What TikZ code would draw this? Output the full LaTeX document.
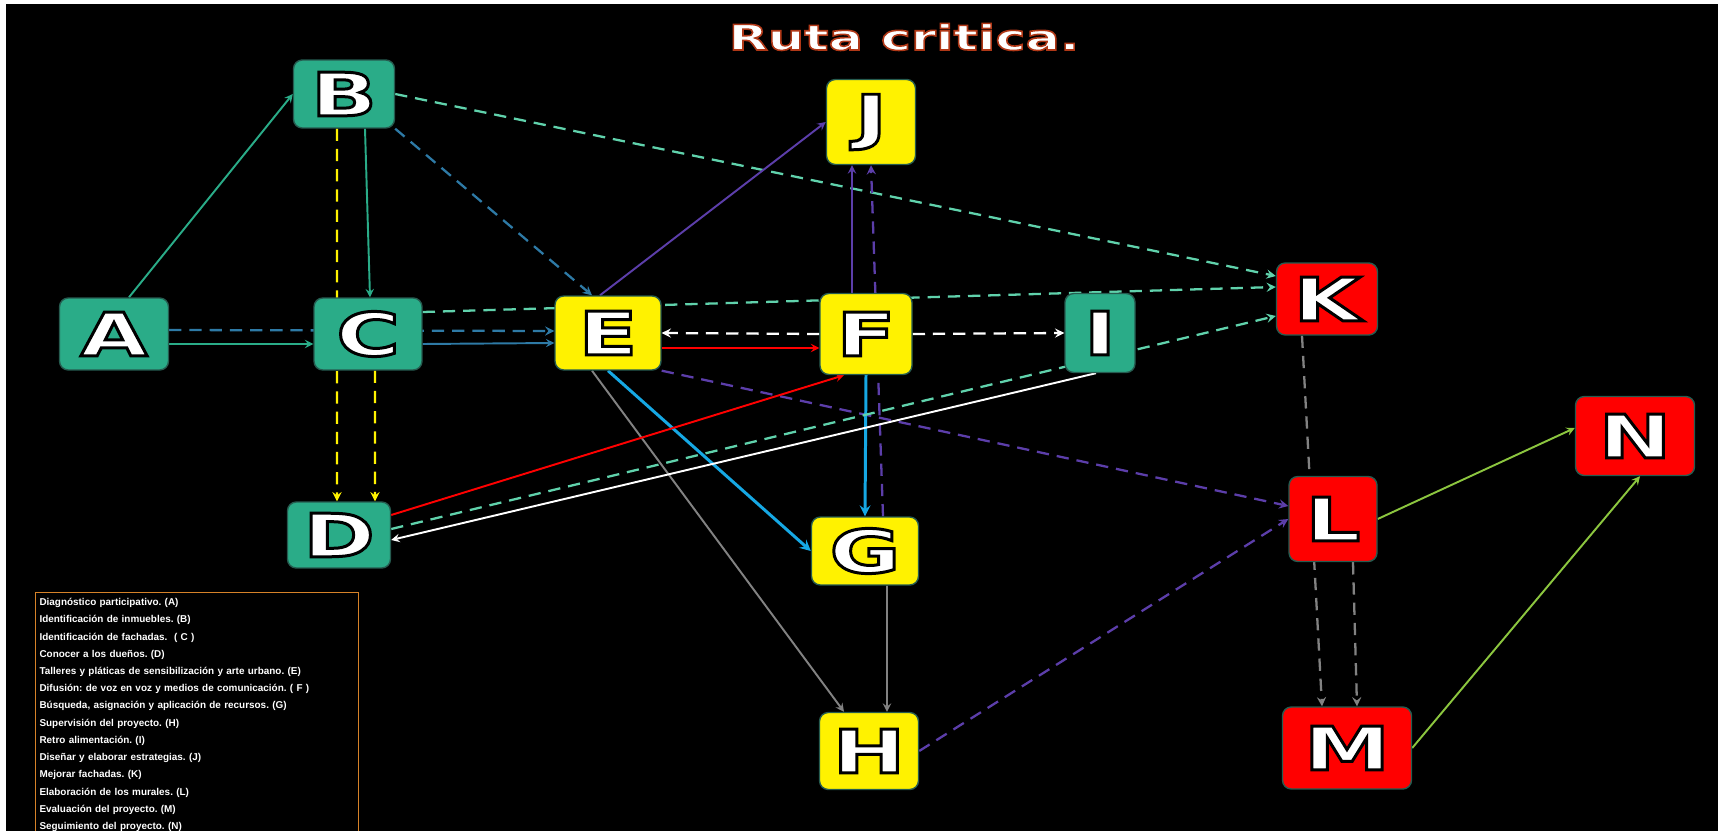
\documentclass[tikz,border=0pt]{standalone}
\usepackage{fontspec}
\setmainfont{DejaVu Sans}
\newfontfamily\wideface[FakeStretch=1.45]{DejaVu Sans}
\newfontfamily\legendface{Liberation Sans}
\usetikzlibrary{shapes.geometric, arrows}

\definecolor{tealnode}{RGB}{42,172,136}
\definecolor{rimcol}{RGB}{38,92,80}
\definecolor{aqua}{RGB}{96,210,172}
\definecolor{steel}{RGB}{46,122,166}
\definecolor{violet}{RGB}{92,62,170}
\definecolor{sky}{RGB}{22,168,228}
\definecolor{leaf}{RGB}{140,198,63}
\definecolor{greyline}{RGB}{130,130,130}
\definecolor{amber}{RGB}{214,130,40}

% white letter with a black rim (fill and stroke in one go)
\newcommand{\boxletter}[1]{{\color{white}\special{pdf:literal direct 2 Tr 1.7 w 0 0 0 RG}#1\special{pdf:literal direct 0 Tr}}}
\newcommand{\titlemark}[1]{{\color{white}\special{pdf:literal direct 2 Tr 0.9 w 0.69 0.22 0.09 RG}#1\special{pdf:literal direct 0 Tr}}}

\pgfdeclarelayer{back}
\pgfdeclarelayer{edges}
\pgfsetlayers{back,edges,main}

\tikzstyle{tealbox} = [rectangle, rounded corners=5pt, draw=rimcol, line width=0.8pt, fill=tealnode, inner sep=0pt, font=\wideface\bfseries\fontsize{34}{34}\selectfont]
\tikzstyle{yellowbox} = [tealbox, fill=yellow]
\tikzstyle{redbox} = [tealbox, fill=red]
\tikzstyle{legendbox} = [rectangle, draw=amber, line width=0.6pt, anchor=north west, minimum width=6.46cm, minimum height=4.74cm, text width=6.3cm, align=left, inner xsep=2pt, text=white, font=\legendface\bfseries\fontsize{5.65}{9.8}\selectfont\frenchspacing]
\tikzstyle{arrow} = [line width=1.1pt, ->, >=stealth]
\tikzstyle{dasharrow} = [arrow, line width=1.3pt, dash pattern=on 7pt off 4.5pt]
\tikzstyle{fatarrow} = [arrow, line width=1.7pt]

\begin{document}
\begin{tikzpicture}[x=0.02cm, y=-0.02cm]
\useasboundingbox (0,0) rectangle (1718,831);
\begin{pgfonlayer}{back}
\fill [white] (0,0) rectangle (1718,831);
\fill [black] (6,4) rectangle (1718,831);
\end{pgfonlayer}

\node (title) [anchor=base, font=\wideface\bfseries\fontsize{20}{20}\selectfont] at (904,50) {\titlemark{Ruta critica.}};

\node (a) [tealbox, minimum width=2.18cm, minimum height=1.44cm] at (114,334) {\boxletter{A}};
\node (b) [tealbox, minimum width=2.02cm, minimum height=1.36cm] at (344,94) {\boxletter{B}};
\node (c) [tealbox, minimum width=2.16cm, minimum height=1.44cm] at (368,334) {\boxletter{C}};
\node (d) [tealbox, minimum width=2.06cm, minimum height=1.32cm] at (339,535) {\boxletter{D}};
\node (e) [yellowbox, minimum width=2.12cm, minimum height=1.48cm] at (608,333) {\boxletter{E}};
\node (f) [yellowbox, minimum width=1.84cm, minimum height=1.62cm] at (866,334) {\boxletter{F}};
\node (i) [tealbox, minimum width=1.40cm, minimum height=1.58cm] at (1100,333) {\boxletter{I}};
\node (j) [yellowbox, minimum width=1.78cm, minimum height=1.70cm] at (871,122) {\boxletter{J}};
\node (g) [yellowbox, minimum width=2.14cm, minimum height=1.36cm] at (865,551) {\boxletter{G}};
\node (h) [yellowbox, minimum width=1.98cm, minimum height=1.54cm] at (869,751) {\boxletter{H}};
\node (k) [redbox, minimum width=2.02cm, minimum height=1.44cm] at (1327,299) {\boxletter{K}};
\node (l) [redbox, minimum width=1.76cm, minimum height=1.70cm] at (1333,519) {\boxletter{L}};
\node (m) [redbox, minimum width=2.58cm, minimum height=1.64cm] at (1347,748) {\boxletter{M}};
\node (n) [redbox, minimum width=2.38cm, minimum height=1.58cm] at (1635,436) {\boxletter{N}};

\node (legend) [legendbox] at (35,592) {Diagnóstico participativo. (A)\\
Identificación de inmuebles. (B)\\
Identificación de fachadas.~~( C )\\
Conocer a los dueños. (D)\\
Talleres y pláticas de sensibilización y arte urbano. (E)\\
Difusión: de voz en voz y medios de comunicación. ( F )\\
Búsqueda, asignación y aplicación de recursos. (G)\\
Supervisión del proyecto. (H)\\
Retro alimentación. (I)\\
Diseñar y elaborar estrategias. (J)\\
Mejorar fachadas. (K)\\
Elaboración de los murales. (L)\\
Evaluación del proyecto. (M)\\
Seguimiento del proyecto. (N)\\[3pt]};

\begin{pgfonlayer}{edges}
\draw [arrow, tealnode] ([xshift=0.3cm]a.north) -- (b.west);
\draw [arrow, tealnode] ([yshift=-0.2cm]a.east) -- ([yshift=-0.2cm]c.west);
\draw [dasharrow, steel] ([yshift=0.08cm]a.east) -- ([yshift=0.04cm]e.west);
\draw [arrow, steel] ([yshift=-0.2cm]c.east) -- ([yshift=-0.2cm]e.west);
\draw [arrow, tealnode] ([xshift=0.42cm]b.south) -- ([xshift=0.04cm]c.north);
\draw [dasharrow, yellow] ([xshift=-0.14cm]b.south) -- ([xshift=-0.04cm]d.north);
\draw [dasharrow, yellow] ([xshift=0.14cm]c.south) -- ([xshift=0.72cm]d.north);
\draw [dasharrow, steel] (b.south east) -- ([xshift=-0.32cm]e.north);
\draw [dasharrow, aqua] (b.east) -- ([yshift=0.46cm]k.west);
\draw [dasharrow, aqua] ([yshift=0.44cm]c.east) -- ([yshift=0.24cm]k.west);
\draw [arrow, red] ([yshift=-0.3cm]e.east) -- ([yshift=-0.28cm]f.west);
\draw [dasharrow, white] (f.west) -- (e.east);
\draw [dasharrow, white] (f.east) -- (i.west);
\draw [arrow, violet] ([xshift=-0.16cm]e.north) -- (j.west);
\draw [arrow, violet] ([xshift=-0.28cm]f.north) -- ([xshift=-0.38cm]j.south);
\draw [dasharrow, violet] ([xshift=0.36cm]g.north) -- (j.south);
\draw [dasharrow, violet] (e.south east) -- ([yshift=0.26cm]l.west);
\draw [dasharrow, violet] (h.east) -- (l.west);
\draw [fatarrow, sky] (e.south) -- (g.west);
\draw [fatarrow, sky] (f.south) -- (g.north);
\draw [arrow, greyline] ([xshift=-0.32cm]e.south) -- ([xshift=-0.5cm]h.north);
\draw [arrow, greyline] ([xshift=0.44cm]g.south) -- ([xshift=0.36cm]h.north);
\draw [arrow, red] ([yshift=0.4cm]d.east) -- ([xshift=-0.44cm]f.south);
\draw [dasharrow, aqua] ([yshift=0.12cm]d.east) -- ([yshift=-0.34cm]k.west);
\draw [arrow, white] ([xshift=-0.08cm]i.south) -- ([yshift=-0.1cm]d.east);
\draw [dasharrow, greyline] ([xshift=-0.5cm]k.south) -- ([xshift=-0.5cm]m.north);
\draw [dasharrow, greyline] ([xshift=0.4cm]l.south) -- ([xshift=0.2cm]m.north);
\draw [arrow, leaf] (l.east) -- ([yshift=0.16cm]n.west);
\draw [arrow, leaf] (m.east) -- ([xshift=0.1cm]n.south);
\end{pgfonlayer}

\end{tikzpicture}
\end{document}
